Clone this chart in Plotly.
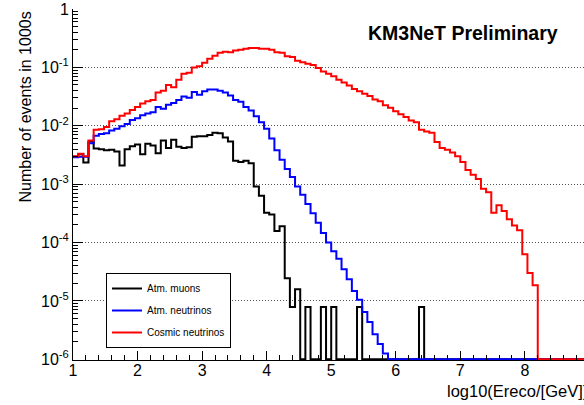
import plotly.graph_objects as go

# ---------------- data ----------------
# 100 bins of width 0.08 in log10(Ereco/GeV), from 1 to 9
bin_lo = 1.0
bin_width = 0.08
n_bins = 100

atm_muons = [
    2.95e-3, 3.24e-3, 2.34e-3, 5.37e-3, 4.07e-3, 3.98e-3, 3.80e-3, 3.89e-3, 3.63e-3, 2.09e-3,
    3.98e-3, 4.47e-3, 4.79e-3, 3.24e-3, 4.90e-3, 4.57e-3, 3.39e-3, 5.62e-3, 4.17e-3, 5.75e-3,
    4.37e-3, 4.17e-3, 4.27e-3, 6.46e-3, 6.61e-3, 6.61e-3, 6.92e-3, 7.59e-3, 7.41e-3, 6.31e-3,
    5.37e-3, 2.51e-3, 2.40e-3, 2.51e-3, 2.29e-3, 9.12e-4, 6.31e-4, 3.24e-4, 3.02e-4, 1.58e-4,
    1.91e-4, 2.45e-5, 7.9e-6, 1.58e-5, 0, 7.9e-6, 0, 0, 7.9e-6, 0,
    7.9e-6, 0, 0, 0, 0, 7.9e-6, 0, 0, 0, 0,
    0, 0, 0, 0, 0, 0, 0, 7.9e-6, 0, 0,
    0, 0, 0, 0, 0, 0, 0, 0, 0, 0,
    0, 0, 0, 0, 0, 0, 0, 0, 0, 0,
    0, 0, 0, 0, 0, 0, 0, 0, 0, 0,
]

atm_neutrinos = [
    2.88e-3, 2.95e-3, 2.95e-3, 5.01e-3, 6.76e-3, 7.24e-3, 7.41e-3, 8.32e-3, 8.91e-3, 9.77e-3,
    1.07e-2, 1.26e-2, 1.35e-2, 1.51e-2, 1.62e-2, 1.70e-2, 2.09e-2, 1.95e-2, 2.29e-2, 2.45e-2,
    2.75e-2, 3.16e-2, 3.02e-2, 3.80e-2, 3.39e-2, 3.89e-2, 4.17e-2, 4.17e-2, 3.98e-2, 3.72e-2,
    3.31e-2, 2.75e-2, 2.57e-2, 2.09e-2, 1.82e-2, 1.45e-2, 1.15e-2, 8.91e-3, 6.03e-3, 3.80e-3,
    2.63e-3, 1.82e-3, 1.32e-3, 9.12e-4, 6.61e-4, 4.57e-4, 3.16e-4, 2.19e-4, 1.45e-4, 1.00e-4,
    7.08e-5, 5.25e-5, 3.47e-5, 2.34e-5, 1.48e-5, 1.05e-5, 6.46e-6, 4.37e-6, 2.69e-6, 1.82e-6,
    1.26e-6, 0, 0, 0, 0, 0, 0, 0, 0, 0,
    0, 0, 0, 0, 0, 0, 0, 0, 0, 0,
    0, 0, 0, 0, 0, 0, 0, 0, 0, 0,
    0, 0, 0, 0, 0, 0, 0, 0, 0, 0,
]

cosmic_neutrinos = [
    3.02e-3, 3.31e-3, 3.02e-3, 5.62e-3, 8.51e-3, 8.71e-3, 9.55e-3, 1.20e-2, 1.29e-2, 1.48e-2,
    1.62e-2, 1.86e-2, 2.09e-2, 2.40e-2, 2.63e-2, 2.75e-2, 3.72e-2, 3.98e-2, 5.01e-2, 4.57e-2,
    6.17e-2, 7.76e-2, 8.13e-2, 0.100, 0.105, 0.120, 0.141, 0.158, 0.178, 0.186,
    0.182, 0.195, 0.200, 0.209, 0.214, 0.214, 0.209, 0.209, 0.200, 0.182,
    0.178, 0.155, 0.151, 0.130, 0.123, 0.115, 0.110, 9.77e-2, 8.51e-2, 7.76e-2,
    7.08e-2, 6.17e-2, 5.50e-2, 4.90e-2, 4.27e-2, 3.89e-2, 3.55e-2, 3.24e-2, 2.82e-2, 2.63e-2,
    2.24e-2, 2.04e-2, 1.78e-2, 1.58e-2, 1.41e-2, 1.23e-2, 1.15e-2, 8.51e-3, 7.94e-3, 7.59e-3,
    5.25e-3, 4.17e-3, 3.89e-3, 3.47e-3, 3.02e-3, 2.40e-3, 1.74e-3, 1.45e-3, 1.23e-3, 8.32e-4,
    7.24e-4, 3.24e-4, 4.37e-4, 3.47e-4, 2.51e-4, 1.95e-4, 1.62e-4, 6.31e-5, 3.02e-5, 1.86e-5,
    0, 0, 0, 0, 0, 0, 0, 0, 0, 0,
]

series_names = ["Atm. muons", "Atm. neutrinos", "Cosmic neutrinos"]
series_colors = ["#000000", "#0000ff", "#ff0000"]

y_tick_vals = [1e-6, 1e-5, 1e-4, 1e-3, 1e-2, 1e-1, 1]
y_tick_text = ["10<sup>-6</sup>", "10<sup>-5</sup>", "10<sup>-4</sup>", "10<sup>-3</sup>",
               "10<sup>-2</sup>", "10<sup>-1</sup>", "1"]
x_tick_vals = [1, 2, 3, 4, 5, 6, 7, 8]

# ---------------- figure ----------------
Y_MIN = 1e-6  # empty bins are drawn on the axis minimum (ROOT convention)
edges = [bin_lo + i * bin_width for i in range(n_bins + 1)]

fig = go.Figure()
for name, color, vals in zip(series_names, series_colors,
                             [atm_muons, atm_neutrinos, cosmic_neutrinos]):
    yy = [v if v > 0 else Y_MIN for v in vals]
    fig.add_trace(go.Scatter(
        x=edges, y=yy + [yy[-1]], mode="lines", name=name,
        line=dict(color=color, width=2, shape="hv"),
        legendgroup=name, hoverinfo="skip",
    ))

minor_y = [m * 10 ** e for e in range(-6, 0) for m in range(2, 10)]

W, H = 584, 405
L, R, T, B = 73, 0, 9, 45
pw, ph = W - L - R, H - T - B
x_max = 1 + pw / 64.55

FONT = "Liberation Sans, Arial, sans-serif"

fig.update_layout(
    width=W, height=H,
    margin=dict(l=L, r=R, t=T, b=B),
    paper_bgcolor="white", plot_bgcolor="white",
    font=dict(family=FONT, color="black", size=16),
    showlegend=True,
    legend=dict(
        x=(106 - L) / pw, y=(H - B - 273) / ph, xanchor="left", yanchor="top",
        bordercolor="black", borderwidth=1, bgcolor="white",
        font=dict(size=10), traceorder="grouped", tracegroupgap=3,
        itemwidth=30,
    ),
    xaxis=dict(
        range=[1, x_max], tickvals=x_tick_vals, ticks="inside", ticklen=9,
        tickcolor="black", showline=True, linecolor="black", linewidth=1,
        showgrid=False, zeroline=False, tickfont=dict(size=16),
        ticklabelstandoff=-4,
        minor=dict(dtick=0.2, tick0=1, ticks="inside", ticklen=5, tickcolor="black",
                   showgrid=False),
    ),
    yaxis=dict(
        type="log", range=[-6.012, 0], tickvals=y_tick_vals, ticktext=y_tick_text,
        ticks="inside", ticklen=10, tickcolor="black", showline=True,
        linecolor="black", linewidth=1, zeroline=False, tickfont=dict(size=16),
        showgrid=True, gridcolor="#555555", gridwidth=1, griddash="1px,2px",
        minor=dict(tickmode="array", tickvals=minor_y, ticks="inside", ticklen=5,
                   tickcolor="black", showgrid=False),
    ),
    annotations=[
        dict(text="<b>KM3NeT Preliminary</b>", xref="paper", yref="paper",
             x=(560 - L) / pw, y=(H - B - 33) / ph, xanchor="right", yanchor="middle",
             showarrow=False, font=dict(size=19.5, family=FONT, color="black")),
        dict(text="log10(Ereco/[GeV])", xref="paper", yref="paper",
             x=(590 - L) / pw, y=(H - B - 391) / ph, xanchor="right", yanchor="middle",
             showarrow=False, font=dict(size=16.5)),
        dict(text="Number of events in 1000s", xref="paper", yref="paper",
             x=(25 - L) / pw, y=(H - B - 10) / ph, xanchor="center", yanchor="top",
             textangle=-90, showarrow=False, font=dict(size=16)),
    ],
)

fig.write_html(
    "out.html",
    config={"displayModeBar": False},
    post_script="document.body.style.margin='0';document.body.style.overflow='hidden';",
)
